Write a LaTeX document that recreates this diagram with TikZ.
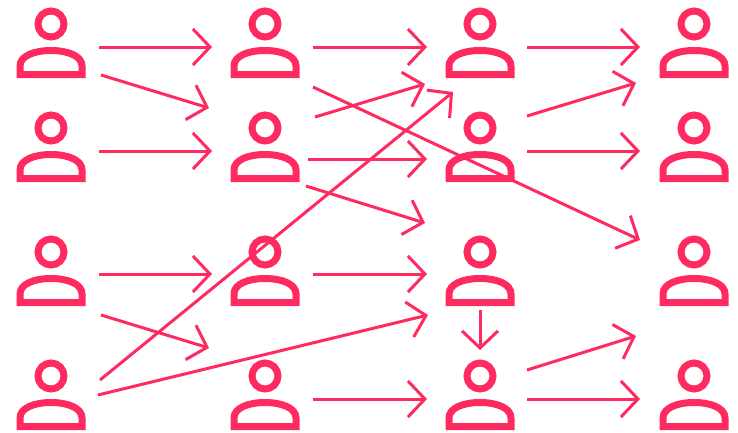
\documentclass[tikz,border=0pt]{standalone}
\usetikzlibrary{arrows.meta,calc}
\definecolor{usercolor}{HTML}{FF2A60}
\tikzset{
    user/.style={minimum width=78pt,minimum height=78pt,inner sep=0pt,
        path picture={
            \draw[usercolor,line width=7pt,shift={(path picture bounding box.center)}]
                (0,-19) circle (13pt)
                (-31,31.5) -- (31,31.5) -- (31,23)
                .. controls (31,13) and (17,7.5) .. (0,7.5)
                .. controls (-17,7.5) and (-31,13) .. (-31,23) -- cycle;
        }},
    flow/.style={usercolor,line width=3pt,-{Straight Barb[length=17pt,width=36pt,line width=3pt]}}
}
\begin{document}
\begin{tikzpicture}[x=1pt,y=-1pt]
            \useasboundingbox (0,0) rectangle (738,432);
            \begin{scope}[every node/.style={user}]
                \node (u11) at (51,43) {};
                \node (u12) at (265,43) {};
                \node (u13) at (480,43) {};
                \node (u14) at (694,43) {};
                \node (u21) at (51,147) {};
                \node (u22) at (265,147) {};
                \node (u23) at (480,147) {};
                \node (u24) at (694,147) {};
                \node (u31) at (51,271) {};
                \node (u32) at (265,271) {};
                \node (u33) at (480,271) {};
                \node (u34) at (694,271) {};
                \node (u41) at (51,395) {};
                \node (u42) at (265,395) {};
                \node (u43) at (480,395) {};
                \node (u44) at (694,395) {};
            \end{scope}
            \draw[flow] ($(u11)+(48,4)$) -- ($(u12)+(-53,4)$);
            \draw[flow] ($(u11)+(50,32)$) -- ($(u22)+(-56,-39)$);
            \draw[flow] ($(u21)+(48,4)$) -- ($(u22)+(-53,4)$);
            \draw[flow] ($(u31)+(48,3)$) -- ($(u32)+(-53,3)$);
            \draw[flow] ($(u31)+(50,44)$) -- ($(u42)+(-56,-47)$);
            \draw[flow] ($(u41)+(49,-15)$) -- ($(u13)+(-27,49)$);
            \draw[flow] ($(u41)+(47,0)$) -- ($(u33)+(-52,44)$);
            \draw[flow] ($(u12)+(48,4)$) -- ($(u13)+(-53,4)$);
            \draw[flow] ($(u12)+(48,44)$) -- ($(u34)+(-54,-31)$);
            \draw[flow] ($(u22)+(50,-30)$) -- ($(u13)+(-55,41)$);
            \draw[flow] ($(u22)+(43,12)$) -- ($(u23)+(-53,12)$);
            \draw[flow] ($(u22)+(41,39)$) -- ($(u33)+(-55,-48)$);
            \draw[flow] ($(u32)+(48,3)$) -- ($(u33)+(-53,3)$);
            \draw[flow] ($(u42)+(48,4)$) -- ($(u43)+(-53,4)$);
            \draw[flow] ($(u13)+(47,4)$) -- ($(u14)+(-54,4)$);
            \draw[flow] ($(u23)+(47,-31)$) -- ($(u14)+(-58,40)$);
            \draw[flow] ($(u23)+(47,4)$) -- ($(u24)+(-54,4)$);
            \draw[flow] ($(u33)+(0,39)$) -- ($(u43)+(0,-45)$);
            \draw[flow] ($(u43)+(47,-25)$) -- ($(u44)+(-58,-59)$);
            \draw[flow] ($(u43)+(47,4)$) -- ($(u44)+(-54,4)$);
        \end{tikzpicture}
\end{document}
